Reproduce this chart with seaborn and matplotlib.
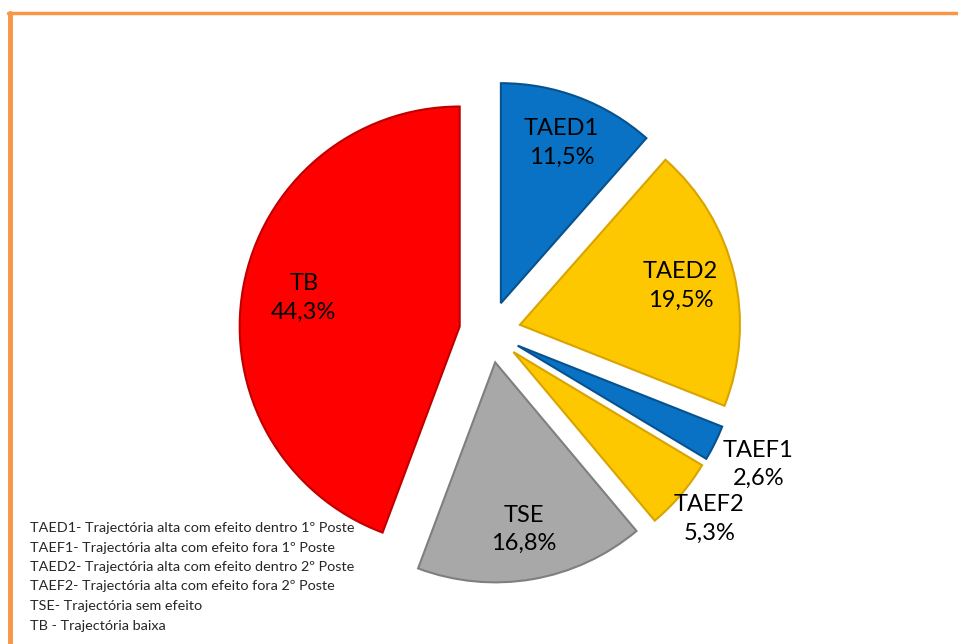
import numpy as np
import matplotlib
matplotlib.use("Agg")
import matplotlib.pyplot as plt
import seaborn as sns
from matplotlib.lines import Line2D

# Dados
categorias = ["TAED1", "TAED2", "TAEF1", "TAEF2", "TSE", "TB"]
percentagens = [11.5, 19.5, 2.6, 5.3, 16.8, 44.3]
rotulos_pct = ["11,5%", "19,5%", "2,6%", "5,3%", "16,8%", "44,3%"]
legenda = [
    "TAED1- Trajectória alta com efeito dentro 1º Poste",
    "TAEF1- Trajectória alta com efeito fora 1º Poste",
    "TAED2- Trajectória alta com efeito dentro 2º Poste",
    "TAEF2- Trajectória alta com efeito fora 2º Poste",
    "TSE- Trajectória sem efeito",
    "TB - Trajectória baixa",
]

sns.set_theme(style="white")
plt.rcParams["font.family"] = ["Lato", "DejaVu Sans"]

cores = ["#0a72c4", "#fdc800", "#0a72c4", "#fdc800", "#a8a8a8", "#ff0000"]
bordas = ["#07528e", "#d9a400", "#07528e", "#d9a400", "#7f7f7f", "#c00000"]
dist_rotulo = [0.92, 0.89, 1.36, 1.31, 0.91, 0.86]

W, H = 958, 644
cx, cy, rpx = 490, 332, 220  # centro e raio em pixels

fig = plt.figure(figsize=(W / 100, H / 100), dpi=100)
ax = fig.add_axes([0, 0, 1, 1])

wedges, _ = ax.pie(percentagens, colors=cores, startangle=90, counterclock=False,
                   explode=[0.14] * len(percentagens), radius=1,
                   wedgeprops=dict(linewidth=1.5))
for w, b in zip(wedges, bordas):
    w.set_edgecolor(b)

ax.set_xlim(-cx / rpx, (W - cx) / rpx)
ax.set_ylim(-(H - cy) / rpx, cy / rpx)
ax.set_aspect("equal")
ax.axis("off")

for w, cat, pct, d in zip(wedges, categorias, rotulos_pct, dist_rotulo):
    ang = np.deg2rad((w.theta1 + w.theta2) / 2)
    ax.text(d * np.cos(ang), d * np.sin(ang), f"{cat}\n{pct}", ha="center", va="center",
            fontsize=17, color="black", linespacing=1.45)

# Legenda em texto
for i, linha in enumerate(legenda):
    fig.text(30 / W, 1 - (528 + i * 19.5) / H, linha, fontsize=10.4, va="center", ha="left")

# Moldura laranja
fig.add_artist(Line2D([8 / W, 1], [1 - 12.5 / H, 1 - 12.5 / H], transform=fig.transFigure,
                      color="#f79646", linewidth=2.5))
fig.add_artist(Line2D([10 / W, 10 / W], [0, 1 - 12.5 / H], transform=fig.transFigure,
                      color="#f79646", linewidth=3.5))

fig.savefig("out.png", dpi=100)
